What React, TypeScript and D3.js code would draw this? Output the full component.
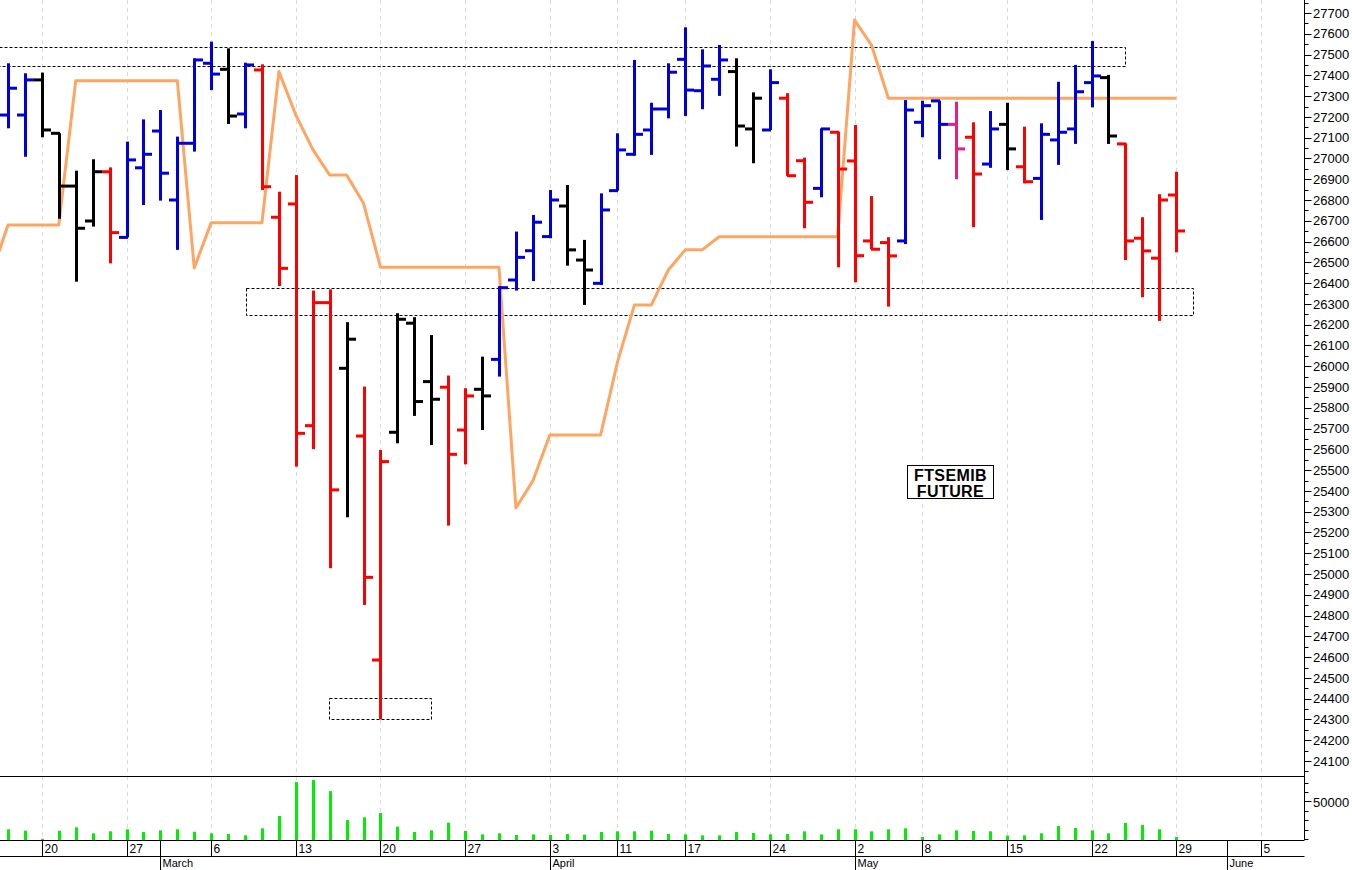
import React from 'react';
import * as d3 from 'd3';

const W = 1352;
const H = 870;

// Daily OHLC, FTSEMIB future, 16 Feb 2023 (index 0) .. 29 May 2023 (index 69)
const opens = [27209, 27209, 27378, 27121, 26867, 26699, 26936, 26620, 26955, 27132, 26800, 27073, 27458, 27429, 27214, 27426, 26717, 26781, 25714, 26306, 25990, 25664, 24586, 25682, 26207, 25926, 25899, 25693, 25889, 26033, 26415, 26556, 26624, 26771, 26511, 26399, 26845, 27020, 27137, 27238, 27477, 27326, 27381, 27418, 27142, 27137, 27290, 26989, 26856, 27126, 26988, 26603, 26595, 26603, 27174, 27277, 27164, 27102, 26973, 27164, 26960, 26904, 27089, 27142, 27365, 27389, 27070, 26616, 26520, 26824];
const highs = [27458, 27410, 27413, 27121, 26941, 26996, 26957, 27081, 27188, 27233, 27105, 27482, 27562, 27530, 27461, 27453, 26840, 26920, 26364, 26370, 26212, 25902, 25597, 26255, 26236, 26150, 25955, 25894, 26046, 26385, 26648, 26728, 26848, 26872, 26608, 26832, 27121, 27474, 27268, 27458, 27631, 27525, 27546, 27482, 27318, 27429, 27314, 27004, 27145, 27129, 27161, 26819, 26621, 27281, 27278, 27278, 27273, 27174, 27228, 27268, 27153, 27169, 27369, 27450, 27565, 27402, 27073, 26717, 26828, 26936];
const lows = [27145, 27008, 27102, 26710, 26407, 26672, 26495, 26620, 26776, 26797, 26560, 27033, 27329, 27166, 27145, 26848, 26386, 25517, 25601, 25028, 25273, 24851, 24301, 25629, 25761, 25621, 25233, 25528, 25693, 25950, 26364, 26410, 26616, 26484, 26295, 26391, 26845, 27013, 27017, 27193, 27204, 27237, 27301, 27057, 26977, 27137, 26916, 26664, 26813, 26476, 26404, 26563, 26287, 26588, 27102, 26996, 26900, 26669, 26955, 26944, 26880, 26704, 26969, 27070, 27246, 27070, 26511, 26332, 26218, 26548];
const closes = [27338, 27378, 27137, 26867, 26664, 26936, 26643, 26993, 27020, 26929, 27073, 27474, 27406, 27204, 27450, 26864, 26471, 25677, 26306, 25405, 26130, 24984, 25541, 26226, 25830, 25841, 25576, 25857, 25857, 26378, 26524, 26693, 26800, 26560, 26463, 26752, 27041, 27116, 27238, 27415, 27329, 27445, 27474, 27156, 27290, 27365, 26917, 26789, 27142, 26949, 26532, 26563, 26531, 27233, 27254, 27164, 27046, 26925, 27142, 27046, 26888, 27116, 27126, 27321, 27397, 27108, 26603, 26555, 26800, 26651];
// b = blue, k = black, r = red, p = pink
const barColors = ['b','b','k','k','k','k','r','b','b','b','b','b','b','k','b','r','r','r','r','r','k','r','r','k','k','k','r','r','k','b','b','b','b','k','k','b','b','b','b','b','b','b','b','k','k','b','r','r','b','r','r','r','r','b','b','b','p','r','b','k','r','b','b','b','b','k','r','r','r','r'];
const volumes = [14200, 12400, 1500, 12400, 16800, 8900, 11500, 14200, 10600, 12800, 14200, 11000, 8900, 8000, 6200, 15500, 31900, 77000, 79700, 65000, 26500, 30100, 35800, 17700, 10600, 12800, 23000, 12000, 7500, 8900, 6600, 7500, 6600, 8000, 7100, 10600, 11500, 11500, 12400, 8000, 7500, 6200, 6200, 10600, 9300, 7500, 8000, 11500, 7500, 14200, 14200, 11500, 14200, 15500, 4000, 7500, 12800, 12000, 11500, 5800, 6200, 8900, 18600, 15900, 12800, 8900, 22600, 19900, 14200, 4000];
// trailing stop line, starts at index -1
const stopLine = [26440, 26680, 26680, 26680, 26680, 27374, 27374, 27374, 27374, 27374, 27374, 27374, 26473, 26691, 26691, 26691, 26691, 27418, 27209, 27044, 26920, 26920, 26784, 26476, 26476, 26476, 26476, 26476, 26476, 26476, 26476, 25318, 25448, 25669, 25669, 25669, 25669, 26021, 26295, 26295, 26463, 26560, 26560, 26623, 26623, 26623, 26623, 26623, 26623, 26623, 26623, 27666, 27546, 27290, 27290, 27290, 27290, 27290, 27290, 27290, 27290, 27290, 27290, 27290, 27290, 27290, 27290, 27290, 27290, 27290, 27290];

const dayTickIndex = [2, 7, 12, 17, 22, 27, 32, 36, 40, 45, 50, 54, 59, 64, 69, 74];
const dayTickLabels = ['20', '27', '6', '13', '20', '27', '3', '11', '17', '24', '2', '8', '15', '22', '29', '5'];
const monthIndex = [9, 32, 50, 72];
const monthLabels = ['March', 'April', 'May', 'June'];

// dashed zones: [startIndex, endIndex, low, high]
const zoneStart = [-2, 14.05, 18.97];
const zoneEnd = [65.95, 70.0, 24.96];
const zoneLow = [27445, 26248, 24301];
const zoneHigh = [27535, 26375, 24402];

const COLORS: Record<string, string> = { b: '#0000dc', k: '#000000', r: '#ff0000', p: '#ec1c80' };
const FONT = '"Liberation Sans", Arial, sans-serif';

export default function App() {
  const x = d3.scaleLinear().domain([0, 69]).range([8, 1176.2]);
  const y = d3.scaleLinear().domain([24100, 27700]).range([761, 13]);
  const yv = d3.scaleLinear().domain([0, 50000]).range([840, 802.4]);
  const axisX = 1304.5;

  const stopPath = d3
    .line<number>()
    .x((_, i) => x(i - 1))
    .y((d) => y(d))(stopLine) as string;

  const priceMajor = d3.range(24100, 27701, 100);
  const priceMinor = d3.range(24050, 27751, 100);
  const volTicks = d3.range(0, 80000, 12500);

  return (
    <svg width={W} height={H} style={{ position: 'absolute', left: 0, top: 0, background: '#fff' }}>
      <rect x={0} y={0} width={W} height={H} fill="#fff" />
      {/* vertical grid */}
      {dayTickIndex.map((d, i) => (
        <line key={'g' + i} x1={Math.round(x(d)) + 0.5} x2={Math.round(x(d)) + 0.5} y1={0} y2={840}
          stroke="#dadada" strokeWidth={1} strokeDasharray="4,4" />
      ))}
      {/* dashed zones */}
      {zoneStart.map((s, i) => {
        const x1 = Math.round(x(s)) + 0.5;
        const x2 = Math.round(x(zoneEnd[i])) + 0.5;
        const y1 = Math.round(y(zoneHigh[i])) + 0.5;
        const y2 = Math.round(y(zoneLow[i])) + 0.5;
        return (
          <path key={'z' + i} d={`M${x1},${y1}H${x2}V${y2}H${x1}Z`} fill="none" stroke="#000"
            strokeWidth={1} strokeDasharray="3,2" />
        );
      })}
      {/* stop line */}
      <path d={stopPath} fill="none" stroke="#ffa562" strokeWidth={3} strokeLinejoin="round" />
      {/* OHLC bars */}
      {opens.map((o, i) => {
        const cx = Math.round(x(i));
        const c = COLORS[barColors[i]];
        const yh = y(highs[i]);
        const yl = y(lows[i]);
        return (
          <g key={'b' + i} fill={c}>
            <rect x={cx - 1} y={yh} width={3} height={Math.max(1, yl - yh)} />
            <rect x={cx - 8} y={y(o) - 1.5} width={9} height={3} />
            <rect x={cx} y={y(closes[i]) - 1.5} width={9} height={3} />
          </g>
        );
      })}
      {/* label box */}
      <rect x={907.5} y={465.5} width={86} height={33} fill="#fff" stroke="#000" strokeWidth={1} />
      <text x={950.5} y={481} textAnchor="middle" fontFamily={FONT} fontWeight="bold" fontSize={16} letterSpacing={0.4}>FTSEMIB</text>
      <text x={950.5} y={497} textAnchor="middle" fontFamily={FONT} fontWeight="bold" fontSize={16} letterSpacing={0.4}>FUTURE</text>
      {/* panel separator */}
      <line x1={0} x2={axisX} y1={776.5} y2={776.5} stroke="#000" strokeWidth={1} />
      {/* volume bars */}
      {volumes.map((v, i) => {
        const cx = Math.round(x(i));
        return <rect key={'v' + i} x={cx - 1} y={yv(v)} width={3} height={840 - yv(v)} fill="#00ee00" />;
      })}
      {/* right axis */}
      <line x1={axisX} x2={axisX} y1={0} y2={840} stroke="#000" strokeWidth={1} />
      {priceMinor.map((v) => (
        <line key={'pm' + v} x1={axisX} x2={axisX + 4} y1={Math.round(y(v)) + 0.5} y2={Math.round(y(v)) + 0.5} stroke="#000" />
      ))}
      {priceMajor.map((v) => (
        <g key={'pM' + v}>
          <line x1={axisX} x2={axisX + 7} y1={Math.round(y(v)) + 0.5} y2={Math.round(y(v)) + 0.5} stroke="#000" />
          <text x={1313} y={y(v)} dy="0.36em" fontFamily={FONT} fontSize={13} fill="#000">{v}</text>
        </g>
      ))}
      {volTicks.map((v) => (
        <line key={'vt' + v} x1={axisX} x2={axisX + (v === 50000 ? 7 : 4)} y1={Math.round(yv(v)) - 0.5} y2={Math.round(yv(v)) - 0.5} stroke="#000" />
      ))}
      <text x={1313} y={yv(50000)} dy="0.36em" fontFamily={FONT} fontSize={13}>50000</text>
      {/* bottom axis */}
      <line x1={0} x2={axisX} y1={840.5} y2={840.5} stroke="#000" />
      <line x1={0} x2={axisX} y1={856.5} y2={856.5} stroke="#000" />
      {dayTickIndex.map((d, i) => {
        const tx = Math.round(x(d)) + 0.5;
        return (
          <g key={'dt' + i}>
            <line x1={tx} x2={tx} y1={840} y2={857} stroke="#000" />
            <text x={tx + 2} y={853} fontFamily={FONT} fontSize={12}>{dayTickLabels[i]}</text>
          </g>
        );
      })}
      {monthIndex.map((d, i) => {
        const tx = Math.round(x(d)) + 0.5;
        return (
          <g key={'mt' + i}>
            <line x1={tx} x2={tx} y1={840} y2={870} stroke="#000" />
            <text x={tx + 2} y={866.5} fontFamily={FONT} fontSize={11}>{monthLabels[i]}</text>
          </g>
        );
      })}
    </svg>
  );
}
